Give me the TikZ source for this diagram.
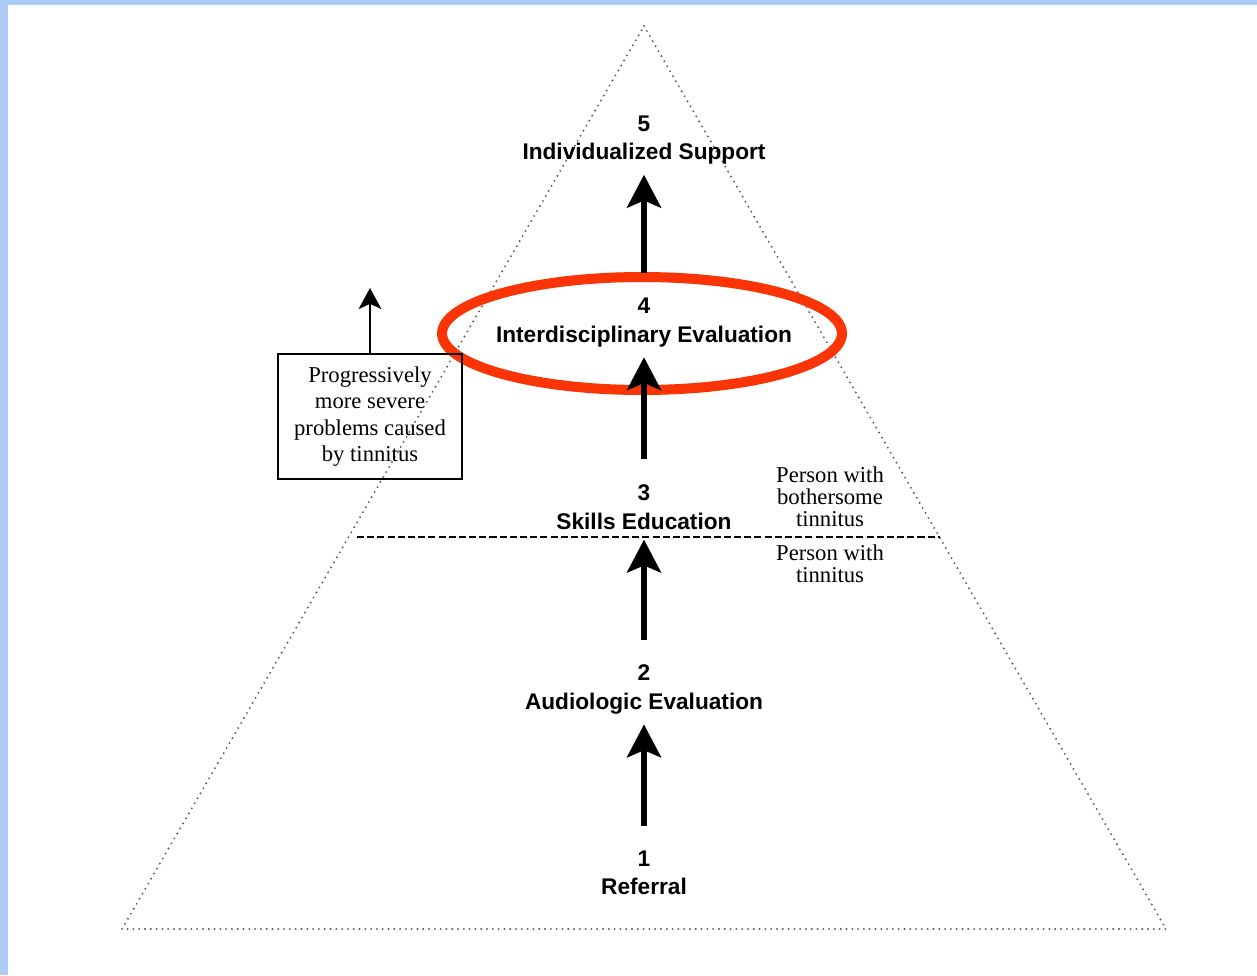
\documentclass[tikz,border=0pt]{standalone}
\usepackage{fontspec}
\setmainfont{Liberation Serif}
\newfontfamily\arialfont{Liberation Sans}
\usetikzlibrary{arrows.meta}
\definecolor{pageblue}{RGB}{172,203,247}
\definecolor{markred}{RGB}{250,52,5}

\begin{document}
\begin{tikzpicture}[x=0.02cm, y=-0.02cm,
  lvl/.style={font=\fontsize{12.9}{16.2}\selectfont\arialfont\bfseries, align=center, inner sep=0pt},
  note/.style={font=\fontsize{12.9}{12.5}\selectfont, align=center, inner sep=0pt},
  up/.style={line width=3.4pt, -{Stealth[length=18.7pt, width=19.3pt, inset=4pt]},
    shorten <=0.5cm, shorten >=0.2cm},
  tri/.style={black!65, line width=1.2pt, dash pattern=on 0pt off 3.3pt, line cap=round}]
\useasboundingbox (0,0) rectangle (1257,975);
\fill[pageblue] (0,0) rectangle (1257,975);
\fill[white] (8,5) rectangle (1257,975);
% pyramid
\coordinate (top) at (644,26);
\coordinate (bl) at (122,929);
\coordinate (br) at (1166,929);
\draw[tri] (top) -- (br) -- (bl) -- cycle;
\draw[line width=0.8pt, dash pattern=on 4pt off 1.8pt] (357,537) -- (940,537);
% marked level
\draw[markred, line width=5.7pt] (642,333.5) ellipse [x radius=4cm, y radius=1.13cm];
% levels
\foreach \n/\y/\t in {1/873/Referral, 2/689.5/Audiologic Evaluation,
    3/507/Skills Education, 4/322.5/Interdisciplinary Evaluation,
    5/140/Individualized Support}
  \node[lvl] (l\n) at (644,\y) {\n\\\t};
\foreach \a/\b in {1/2,2/3,3/4,4/5}
  \draw[up] (l\a) -- (l\b);
% side notes
\node[note] (bother) at (830,497) {Person with\\bothersome\\tinnitus};
\node[note] (plain) at (830,564) {Person with\\tinnitus};
\node[note, draw, line width=0.8pt, minimum width=3.68cm, minimum height=2.5cm,
  font=\fontsize{12.9}{14.9}\selectfont] (sev) at (370,416.5)
  {Progressively\\more severe\\problems caused\\by tinnitus};
\coordinate (sevtip) at (370,288);
\draw[line width=1.1pt, -{Stealth[length=12pt, width=13pt, inset=3pt]}] (sev) -- (sevtip);
\end{tikzpicture}
\end{document}
